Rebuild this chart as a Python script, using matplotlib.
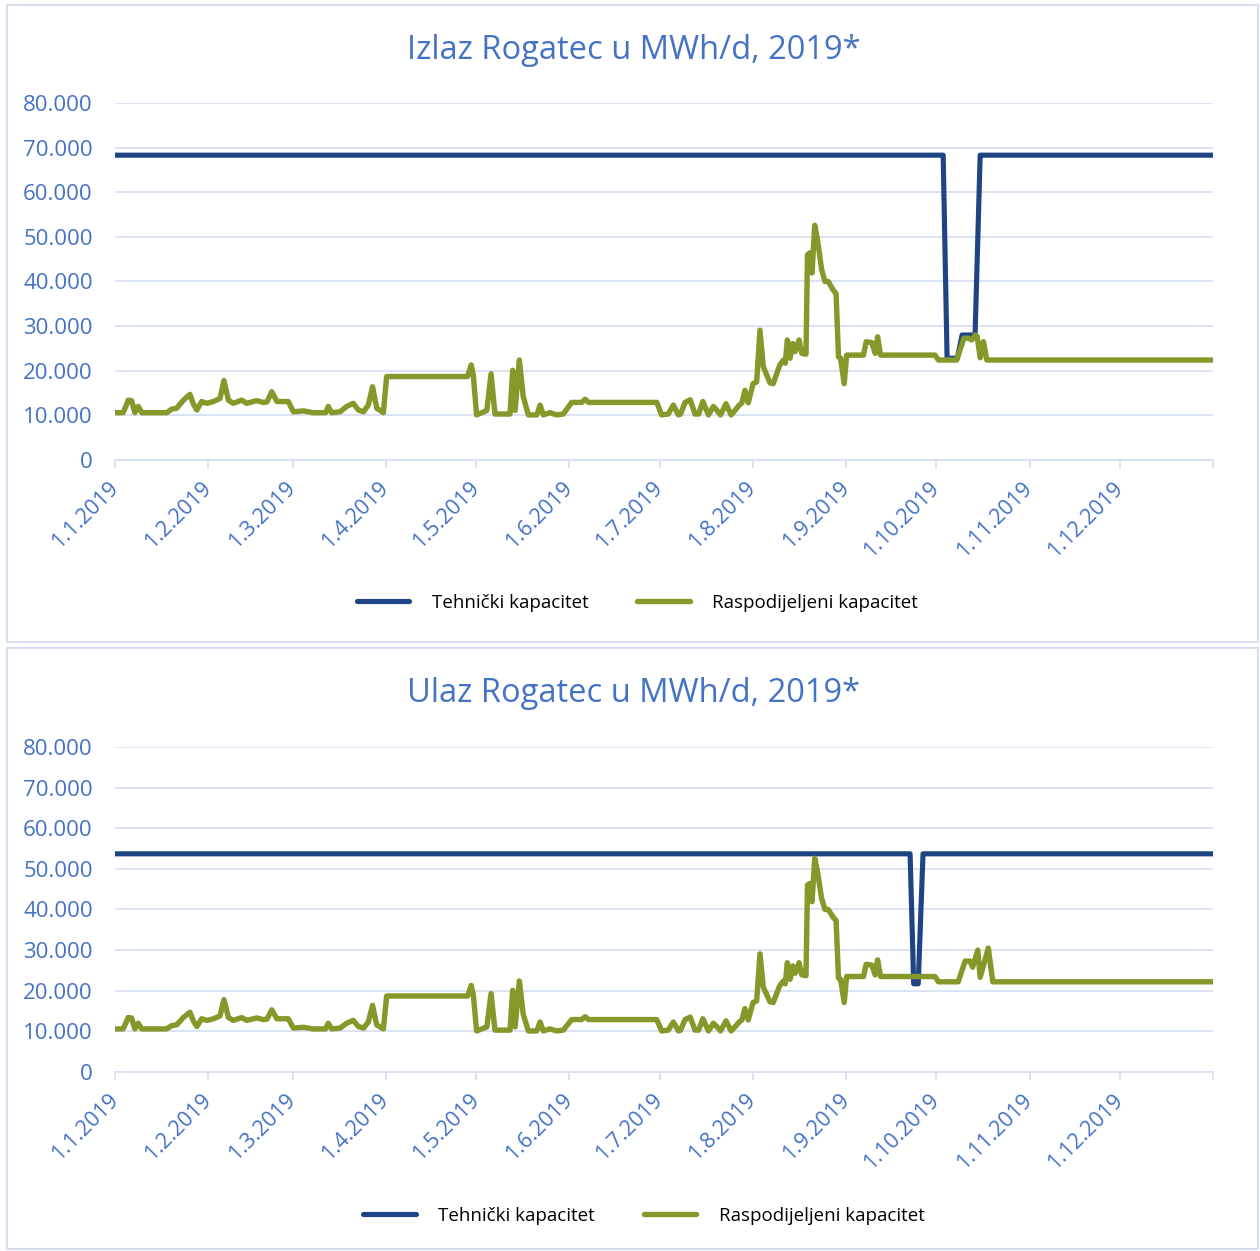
import matplotlib
matplotlib.use("Agg")
import matplotlib.pyplot as plt
from matplotlib.patches import Rectangle
from matplotlib.ticker import FuncFormatter

plt.rcParams['font.family'] = ['Open Sans', 'DejaVu Sans']

# ========== DATA ========== #
# x values are day of year (0 = 1.1.2019)
MONTH_START = [0, 31, 59, 90, 120, 151, 181, 212, 243, 273, 304, 334, 365]
MONTH_LABELS = ["1.1.2019", "1.2.2019", "1.3.2019", "1.4.2019", "1.5.2019",
                "1.6.2019", "1.7.2019", "1.8.2019", "1.9.2019", "1.10.2019",
                "1.11.2019", "1.12.2019", ""]
Y_TICKS = [0, 10000, 20000, 30000, 40000, 50000, 60000, 70000, 80000]

# allocated capacity, identical in both charts until end of September
alloc_days = [0, 2.7, 4.4, 5.5, 6.6, 7.7, 8.9, 17.2, 18.8, 20.5, 22.7, 24.9,
              26.0, 27.2, 28.8, 30.5, 32.7, 34.9, 36.2, 37.7, 39.3, 42.1, 43.8,
              47.1, 49.3, 50.5, 52.1, 53.8, 57.6, 59.3, 62.6, 65.9, 70.0, 70.9,
              72.0, 74.8, 77.0, 79.2, 80.9, 82.6, 84.2, 85.6, 87.0, 89.2, 90.3,
              117.2, 118.4, 119.1, 120.2, 123.6, 125.0, 126.3, 131.3, 132.2,
              133.0, 134.4, 135.7, 137.4, 140.2, 141.3, 142.4, 144.6, 146.8,
              149.0, 151.8, 155.1, 156.3, 157.4, 180.1, 181.7, 183.9, 185.6,
              187.3, 188.0, 189.5, 191.2, 192.8, 194.0, 195.4, 197.3, 198.9,
              200.0, 201.3, 203.1, 204.8, 206.1, 207.5, 208.4, 209.4, 210.5,
              212.1, 213.3, 214.4, 215.5, 217.7, 218.8, 221.0, 222.2, 222.8,
              223.5, 224.4, 225.3, 226.1, 227.4, 228.3, 229.7, 230.2, 231.0,
              231.7, 232.6, 233.5, 234.9, 236.0, 237.1, 238.8, 239.7, 240.5,
              241.2, 242.4, 243.2, 248.8, 249.7, 251.6, 252.7, 253.5, 254.5,
              272.6]
alloc_vals = [10600, 10600, 13400, 13300, 10600, 12000, 10600, 10600, 11400,
              11600, 13400, 14700, 12600, 11200, 13100, 12700, 13100, 13800,
              17800, 13400, 12700, 13400, 12700, 13300, 12900, 13000, 15300,
              13100, 13100, 10800, 11000, 10600, 10600, 12000, 10600, 10800,
              12000, 12700, 11200, 10800, 12300, 16400, 11600, 10600, 18700,
              18700, 21300, 19000, 10100, 11100, 19300, 10300, 10300, 20100,
              11100, 22400, 14200, 10100, 10100, 12300, 10100, 10600, 10100,
              10300, 12900, 12900, 13600, 12900, 12900, 10100, 10300, 12300,
              10100, 10300, 12900, 13500, 10300, 10300, 13100, 10100, 12000,
              11200, 10100, 12600, 10100, 11100, 12300, 12800, 15600, 12800,
              17100, 17500, 29100, 20900, 17300, 17100, 21300, 22400, 21700,
              26900, 22800, 26100, 24300, 26900, 23900, 23700, 46000, 46400,
              41900, 52600, 49400, 42700, 40000, 40000, 38000, 37300, 23100,
              22800, 17100, 23500, 23500, 26500, 26300, 23900, 27600, 23500,
              23500]

# October onwards, differs per chart
izlaz_oct_days = [273.7, 279.8, 282.2, 283.7, 284.8, 285.9, 286.6, 287.6,
                  288.7, 289.8, 365]
izlaz_oct_vals = [22400, 22400, 27300, 27300, 26900, 28000, 27700, 22900,
                  26500, 22400, 22400]
ulaz_oct_days = [273.7, 280.3, 282.6, 284.2, 285.1, 286.8, 287.6, 288.8,
                 290.3, 291.8, 365]
ulaz_oct_vals = [22200, 22200, 27300, 27300, 25800, 30000, 23300, 26500,
                 30500, 22200, 22200]

# technical capacity
izlaz_tech_days = [0, 275.3, 276.6, 280.0, 281.6, 285.9, 287.6, 365]
izlaz_tech_vals = [68300, 68300, 22800, 22800, 28000, 28000, 68300, 68300]
ulaz_tech_days = [0, 264.3, 265.5, 267.0, 268.6, 365]
ulaz_tech_vals = [53700, 53700, 21700, 21700, 53700, 53700]

# ========== STYLE ========== #
BLUE = "#1F4484"
GREEN = "#85992B"
LABEL_BLUE = "#4472C4"
GRID = "#D9E2F3"
BORDER = "#D6DFF0"


def thousands(v, pos):
    return f"{int(v):,}".replace(",", ".")


def draw_panel(rect, title, title_y, tech_x, tech_y, alloc_x, alloc_y, legend_xy):
    ax = fig.add_axes(rect)
    ax.plot(tech_x, tech_y, color=BLUE, lw=3.7, solid_joinstyle="round",
            solid_capstyle="round", label="Tehnički kapacitet", zorder=3)
    ax.plot(alloc_x, alloc_y, color=GREEN, lw=3.9, solid_joinstyle="round",
            solid_capstyle="round", label="Raspodijeljeni kapacitet", zorder=4)

    ax.set_xlim(0, 365)
    ax.set_ylim(0, 80000)
    ax.set_yticks(Y_TICKS)
    ax.yaxis.set_major_formatter(FuncFormatter(thousands))
    ax.set_xticks(MONTH_START)
    ax.set_xticklabels(MONTH_LABELS, rotation=45, ha="right", va="center",
                       rotation_mode="anchor")
    ax.grid(axis="y", color=GRID, lw=1.4)
    ax.set_axisbelow(True)
    for s in ["top", "right", "left"]:
        ax.spines[s].set_visible(False)
    ax.spines["bottom"].set_color(GRID)
    ax.spines["bottom"].set_linewidth(1.4)
    ax.tick_params(axis="y", length=0, pad=16, labelsize=16,
                   labelcolor=LABEL_BLUE)
    ax.tick_params(axis="x", length=6, width=1.4, color=GRID, pad=12,
                   labelsize=15.5, labelcolor=LABEL_BLUE)

    fig.text(0.503, title_y, title, ha="center", va="center", fontsize=23.5,
             color=LABEL_BLUE)

    handles, labels = ax.get_legend_handles_labels()
    fig.legend(handles, labels, loc="center", bbox_to_anchor=legend_xy,
               ncol=2, frameon=False, fontsize=13.5, handlelength=2.8,
               handletextpad=1.2, columnspacing=2.6)
    return ax


# ========== PLOT ========== #
fig = plt.figure(figsize=(12.6, 12.51), dpi=100)

# panel borders
fig.add_artist(Rectangle((7 / 1260, (1251 - 642) / 1251), 1251 / 1260, 637 / 1251,
                         transform=fig.transFigure, fill=False, ec=BORDER, lw=1.5))
fig.add_artist(Rectangle((7 / 1260, 2 / 1251), 1251 / 1260, 601 / 1251,
                         transform=fig.transFigure, fill=False, ec=BORDER, lw=1.5))

draw_panel([0.0913, 0.6323, 0.8714, 0.2854], "Izlaz Rogatec u MWh/d, 2019*", 0.960,
           izlaz_tech_days, izlaz_tech_vals,
           alloc_days + izlaz_oct_days, alloc_vals + izlaz_oct_vals,
           (0.506, 0.518))

draw_panel([0.0913, 0.1431, 0.8714, 0.2598], "Ulaz Rogatec u MWh/d, 2019*", 0.446,
           ulaz_tech_days, ulaz_tech_vals,
           alloc_days + ulaz_oct_days, alloc_vals + ulaz_oct_vals,
           (0.511, 0.028))

fig.savefig("out.png", dpi=100)
